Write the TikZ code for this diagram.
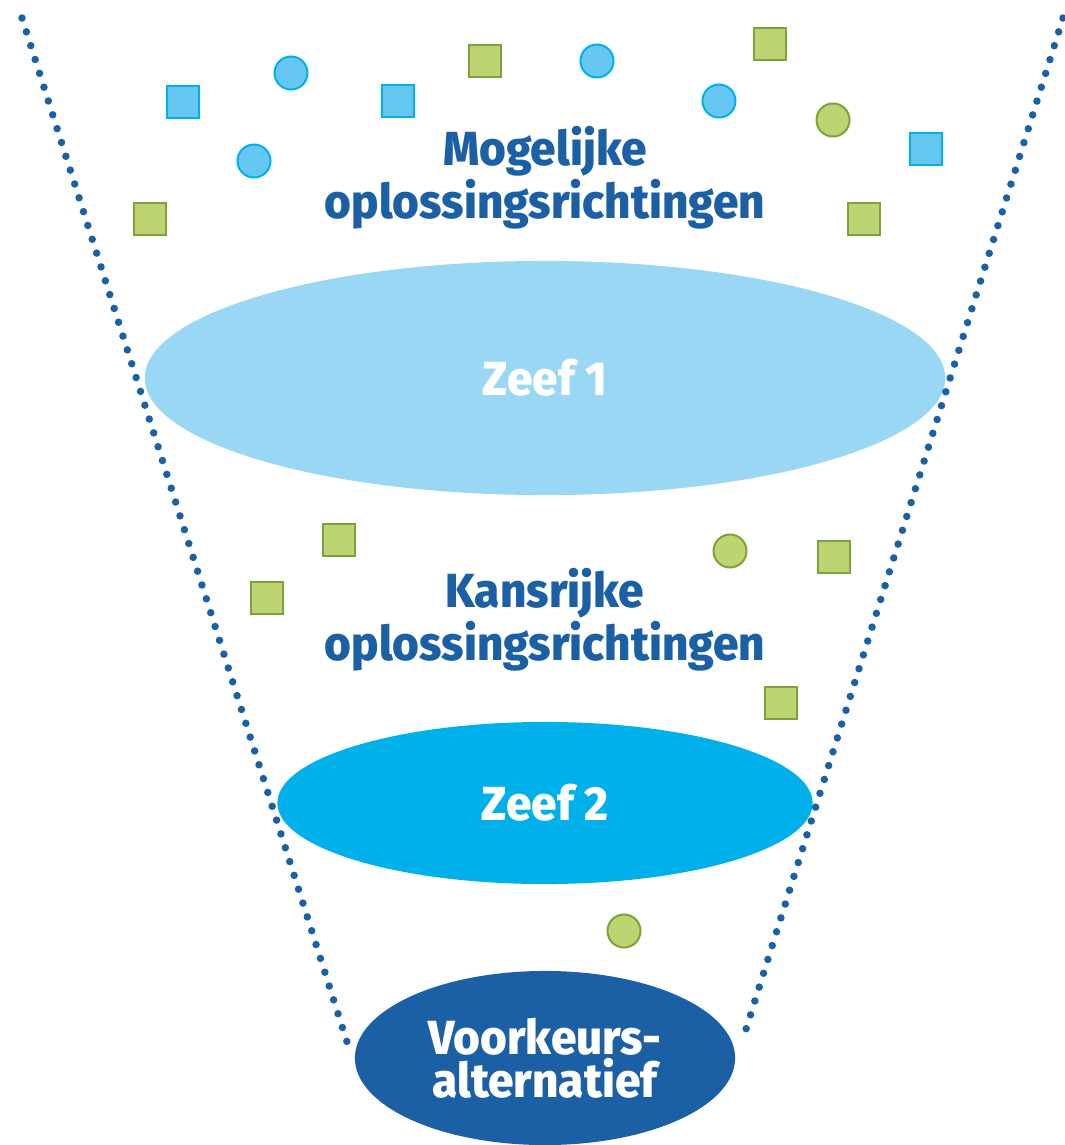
\documentclass[tikz,border=0pt]{standalone}
\usepackage{fontspec}
\setmainfont{Fira Sans}
\newfontfamily\kopletter[FakeStretch=0.96]{Fira Sans ExtraBold}
\usetikzlibrary{shapes.geometric}

\definecolor{trechterblauw}{HTML}{1B5FA5}
\definecolor{zeeflicht}{HTML}{99D7F5}
\definecolor{zeefcyaan}{HTML}{00B0EA}
\definecolor{blokblauw}{HTML}{66C8F2}
\definecolor{randblauw}{HTML}{00B0EA}
\definecolor{blokgroen}{HTML}{BCD472}
\definecolor{randgroen}{HTML}{7FA03A}

\tikzset{
  kopfont/.style={font=\kopletter\fontsize{13.6}{12.2}\selectfont},
  kop/.style={kopfont, text=trechterblauw, align=center, inner sep=0pt},
  zeef/.style={ellipse, kopfont, text=white, align=center, inner sep=0pt},
  stippel/.style={trechterblauw, line width=0.075cm, line cap=round, dash pattern=on 0pt off 0.145cm},
  blauwblok/.style={draw=randblauw, fill=blokblauw, line width=0.02cm, minimum size=0.32cm, inner sep=0pt},
  blauwrond/.style={blauwblok, circle, minimum size=0.33cm},
  groenblok/.style={draw=randgroen, fill=blokgroen, line width=0.02cm, minimum size=0.32cm, inner sep=0pt},
  groenrond/.style={groenblok, circle, minimum size=0.33cm}
}

\begin{document}
\begin{tikzpicture}[x=0.01cm, y=-0.01cm]
\useasboundingbox (0,0) rectangle (1065,1145);

\node[zeef, fill=zeeflicht, minimum width=8cm, minimum height=2.34cm] (zeef1) at (545,378) {Zeef 1};
\node[zeef, fill=zeefcyaan, minimum width=5.35cm, minimum height=1.62cm] (zeef2) at (545,803) {Zeef 2};
\node[zeef, fill=trechterblauw, minimum width=3.8cm, minimum height=1.74cm] (voorkeur) at (545,1058) {Voorkeurs-\\alternatief};

\node[kop] (mogelijk) at (545,178) {Mogelijke\\oplossingsrichtingen};
\node[kop] (kansrijk) at (545,620) {Kansrijke\\oplossingsrichtingen};

\node[blauwblok] (m1) at (183,102) {};
\node[blauwrond] (m2) at (291,73) {};
\node[blauwrond] (m3) at (254,161) {};
\node[groenblok] (m4) at (150,219) {};
\node[blauwblok] (m5) at (398,101) {};
\node[groenblok] (m6) at (485,61) {};
\node[blauwrond] (m7) at (597,61) {};
\node[blauwrond] (m8) at (719,101) {};
\node[groenblok] (m9) at (770,44) {};
\node[groenrond] (m10) at (833,120) {};
\node[blauwblok] (m11) at (926,149) {};
\node[groenblok] (m12) at (864,219) {};

\node[groenblok] (k1) at (339,540) {};
\node[groenblok] (k2) at (267,598) {};
\node[groenrond] (k3) at (730,551) {};
\node[groenblok] (k4) at (834,557) {};
\node[groenblok] (k5) at (781,703) {};

\node[groenrond] (v1) at (624,931) {};

\coordinate (links boven) at (22,18);
\coordinate (links onder) at (347,1042);
\coordinate (rechts boven) at (1063,18);
\coordinate (rechts onder) at (742,1042);
\draw[stippel] (links boven) -- (links onder);
\draw[stippel] (rechts boven) -- (rechts onder);
\end{tikzpicture}
\end{document}
